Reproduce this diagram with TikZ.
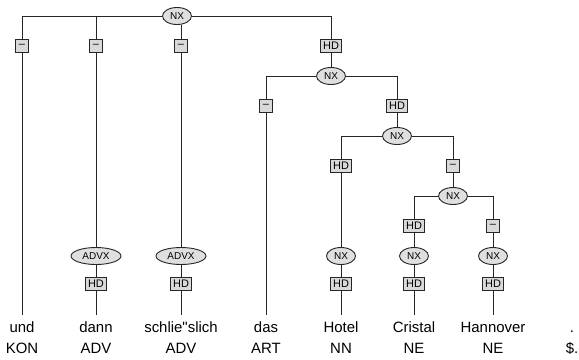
\documentclass[tikz,border=0pt]{standalone}
\usepackage{fontspec}
\setmainfont{Liberation Sans}[Ligatures=TeXOff]
\usetikzlibrary{shapes.geometric, positioning}

\tikzset{
  cat/.style={ellipse, draw=black!85, fill=gray!25, line width=0.9bp,
    inner sep=0pt, minimum width=29bp, minimum height=17bp,
    font=\fontsize{10}{10}\selectfont},
  fn/.style={rectangle, draw=black!85, fill=gray!30, line width=0.9bp,
    inner xsep=2.5bp, inner ysep=1bp, minimum width=13bp, minimum height=13bp,
    font=\fontsize{11}{11}\selectfont},
  word/.style={anchor=base, inner xsep=1bp, inner ysep=6bp,
    text height=11bp, text depth=3bp, font=\fontsize{15}{15}\selectfont},
  tag/.style={anchor=base, font=\fontsize{15}{15}\selectfont},
  branch/.style={draw=black!85, line width=0.9bp}
}

\begin{document}
\begin{tikzpicture}[x=1bp, y=-1bp]
\useasboundingbox (0,0) rectangle (579,359);

% terminals with their tags
\foreach \n/\x/\w/\t in {
    1/22/und/KON,
    2/96/dann/ADV,
    3/181/schlie"slich/ADV,
    4/266/das/ART,
    5/341/Hotel/NN,
    6/414/Cristal/NE,
    7/493/Hannover/NE,
    8/572/./\$.} {
    \node[word] (w\n) at (\x,332) {\w};
    \node[tag] (t\n) at (\x,353) {\t};
}

% phrase nodes and edge labels
\node[cat] (nx0) at (177,16) {NX};
\node[fn] (e1) at (22,46) {\textendash};
\node[fn] (e2) at (96,46) {\textendash};
\node[fn] (e3) at (181,46) {\textendash};
\node[fn] (e4) at (331,46) {HD};
\node[cat] (nx1) at (331,76) {NX};
\node[fn] (e5) at (266,106) {\textendash};
\node[fn] (e6) at (397,106) {HD};
\node[cat] (nx2) at (397,136) {NX};
\node[fn] (e7) at (341,166) {HD};
\node[fn] (e8) at (453,166) {\textendash};
\node[cat] (nx3) at (453,196) {NX};
\node[fn] (e9) at (414,226) {HD};
\node[fn] (e10) at (493,226) {\textendash};

% lowest level
\node[cat, minimum width=50bp] (advx1) at (96,256) {ADVX};
\node[cat, minimum width=50bp] (advx2) at (181,256) {ADVX};
\node[cat] (nx4) at (341,256) {NX};
\node[cat] (nx5) at (414,256) {NX};
\node[cat] (nx6) at (493,256) {NX};
\foreach \n/\x in {1/96, 2/181, 3/341, 4/414, 5/493}
    \node[fn] (h\n) at (\x,284) {HD};

% branches
\foreach \a/\b in {nx0/e1, nx0/e2, nx0/e4, nx1/e5, nx1/e6,
                   nx2/e7, nx2/e8, nx3/e9, nx3/e10}
    \draw[branch] (\a) -| (\b);
\draw[branch] (e3) -- (e3 |- nx0.south);
\foreach \a/\b in {e1/w1, e2/advx1, advx1/h1, h1/w2,
                   e3/advx2, advx2/h2, h2/w3,
                   e4/nx1, e5/w4, e6/nx2,
                   e7/nx4, nx4/h3, h3/w5,
                   e8/nx3, e9/nx5, nx5/h4, h4/w6,
                   e10/nx6, nx6/h5, h5/w7}
    \draw[branch] (\a) -- (\b);
\end{tikzpicture}
\end{document}
